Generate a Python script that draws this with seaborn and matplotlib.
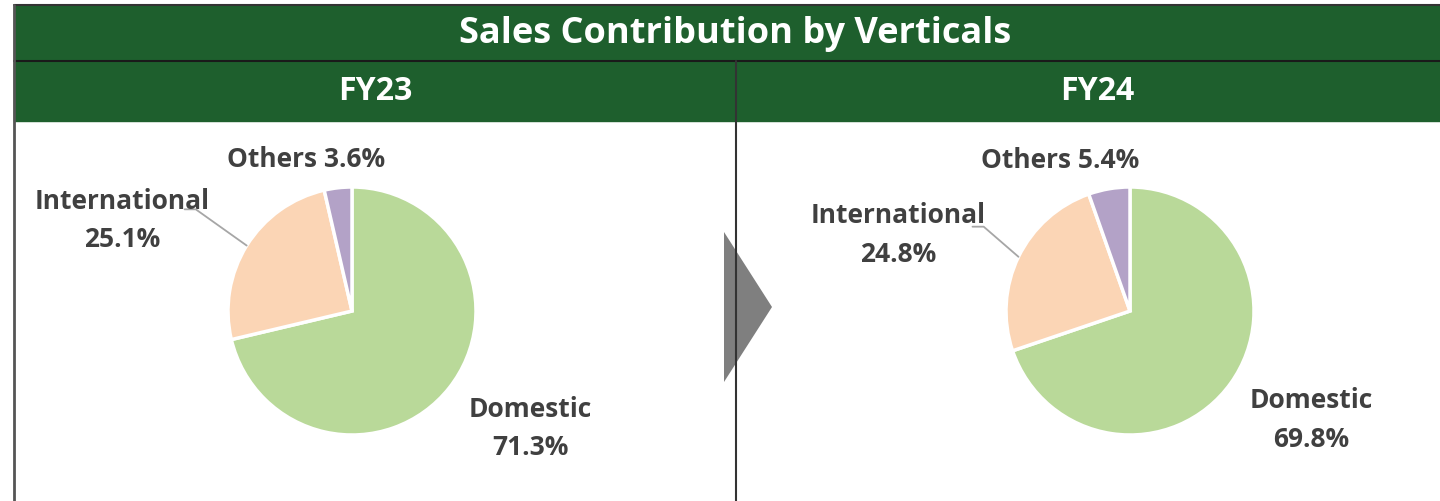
import numpy as np
import matplotlib
matplotlib.use('Agg')
import matplotlib.pyplot as plt
import seaborn as sns
from matplotlib.patches import Rectangle, Polygon

# data
verticals = ['Domestic', 'International', 'Others']
fy23_share = [71.3, 25.1, 3.6]
fy24_share = [69.8, 24.8, 5.4]
years = ['FY23', 'FY24']
chart_title = 'Sales Contribution by Verticals'

sns.set_theme(style='white')
plt.rcParams['font.family'] = ['Open Sans', 'DejaVu Sans']

colors = ['#B9D999', '#FBD5B5', '#B3A2C7']
green = '#1E5F2D'
text_col = '#404040'

W, H = 1440, 502
fig = plt.figure(figsize=(W / 100, H / 100), dpi=100)

# background axes in pixel coords
bg = fig.add_axes([0, 0, 1, 1])
bg.set_xlim(0, W)
bg.set_ylim(H, 0)
bg.axis('off')

bg.add_patch(Rectangle((14, 6), W, 116, color=green, zorder=1))
bg.plot([14, W], [6, 6], color='#333333', lw=1.5, zorder=2)
bg.plot([14, W], [62, 62], color='#1a1a1a', lw=1.5, zorder=2)
bg.plot([14, 14], [6, H], color='#555555', lw=2, zorder=2)
bg.plot([736, 736], [62, H], color='#333333', lw=1.5, zorder=4)

# arrow between the two pies
bg.add_patch(Polygon([(724, 233), (772, 308), (724, 383)], closed=True,
                     color='#7F7F7F', lw=0, zorder=3))

bg.text(735, 34, chart_title, color='white', fontsize=26, fontweight='bold',
        ha='center', va='center', zorder=5)
bg.text(375, 92, years[0], color='white', fontsize=23, fontweight='bold',
        ha='center', va='center', zorder=5)
bg.text(1097, 92, years[1], color='white', fontsize=23, fontweight='bold',
        ha='center', va='center', zorder=5)

# label layout (in pie-radius units)
layouts = [
    {'center': (352, 312),
     'labels': [(1.44, -0.94), (-1.85, 0.74), (-0.37, 1.23)],
     'leader_end': (-1.35, 0.82)},
    {'center': (1130, 312),
     'labels': [(1.46, -0.87), (-1.87, 0.62), (-0.56, 1.22)],
     'leader_end': (-1.27, 0.68)},
]
r_px = 124
half_gap = 0.155  # half the distance between the two label lines

for shares, lay in zip([fy23_share, fy24_share], layouts):
    cx, cy = lay['center']
    ax = fig.add_axes([(cx - r_px) / W, (H - cy - r_px) / H,
                       2 * r_px / W, 2 * r_px / H])
    wedges, _ = ax.pie(shares, colors=colors, startangle=90, counterclock=False,
                       wedgeprops=dict(edgecolor='white', linewidth=2.5))
    ax.set_xlim(-1, 1)
    ax.set_ylim(-1, 1)
    ax.axis('off')

    style = dict(ha='center', va='center', fontsize=19, fontweight='bold',
                 color=text_col, clip_on=False)
    for i, (name, val) in enumerate(zip(verticals, shares)):
        lx, ly = lay['labels'][i]
        if name == 'Others':
            ax.text(lx, ly, f'{name} {val}%', **style)
        else:
            ax.text(lx, ly + half_gap, name, **style)
            ax.text(lx, ly - half_gap, f'{val}%', **style)

    # leader line for International
    w = wedges[1]
    mid = np.deg2rad((w.theta1 + w.theta2) / 2)
    ex, ey = np.cos(mid), np.sin(mid)
    sx, sy = lay['leader_end']
    ax.plot([sx, sx + 0.09, ex], [sy, sy, ey], color='#A6A6A6', lw=1.3,
            clip_on=False)

fig.savefig('out.png', dpi=100)
